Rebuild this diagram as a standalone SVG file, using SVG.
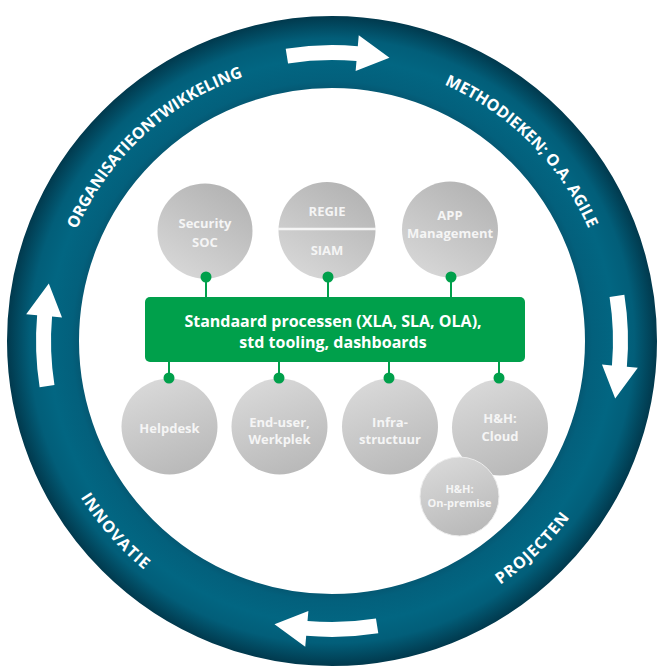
<svg xmlns="http://www.w3.org/2000/svg" xmlns:xlink="http://www.w3.org/1999/xlink" width="659" height="666" viewBox="0 0 659 666">
  <style>
    .ring-label { font-family: "Open Sans", "Liberation Sans", sans-serif; font-weight: 700; font-size: 16px; fill: #ffffff; }
    .node-label { font-family: "Open Sans", "Liberation Sans", sans-serif; font-weight: 700; font-size: 13px; fill: #f5f5f5; text-anchor: middle; }
    .node-label-small { font-family: "Open Sans", "Liberation Sans", sans-serif; font-weight: 700; font-size: 11px; fill: #f5f5f5; text-anchor: middle; }
    .hub-label { font-family: "Open Sans", "Liberation Sans", sans-serif; font-weight: 700; font-size: 16px; fill: #ffffff; text-anchor: middle; }
    .link { stroke: #00a04b; stroke-width: 2; fill: none; }
    .dot { fill: #00a04b; }
    .top-node { fill: url(#nodeTop); }
    .bottom-node { fill: url(#nodeBottom); }
  </style>
  <defs>
    <radialGradient id="ringGrad" gradientUnits="userSpaceOnUse" cx="332" cy="341" r="325">
      <stop offset="0.77" stop-color="#05556f"/>
      <stop offset="0.80" stop-color="#03607c"/>
      <stop offset="0.87" stop-color="#026682"/>
      <stop offset="0.93" stop-color="#025e79"/>
      <stop offset="1" stop-color="#01394d"/>
    </radialGradient>
    <linearGradient id="nodeTop" x1="0.8" y1="0" x2="0.2" y2="1">
      <stop offset="0" stop-color="#b2b2b2"/>
      <stop offset="1" stop-color="#d8d8d8"/>
    </linearGradient>
    <linearGradient id="nodeBottom" x1="0.3" y1="0" x2="0.7" y2="1">
      <stop offset="0" stop-color="#d9d9d9"/>
      <stop offset="1" stop-color="#b8b8b8"/>
    </linearGradient>
    <!-- curved arrow drawn at the top of the ring, relative to the ring centre -->
    <path id="ringArrow" fill="#ffffff" d="M -46.30,-292.36 A 296 296 0 0 1 25.80,-294.87 L 26.76,-305.83 L 57.5,-283.2 L 23.62,-269.97 L 24.49,-279.93 A 281 281 0 0 0 -43.95,-277.54 Z"/>
    <path id="arcOrg" d="M125.6,530.2 A280,280 0 0 1 538.4,151.8"/>
    <path id="arcMeth" d="M134,143 A280,280 0 0 1 530,539"/>
    <path id="arcInno" d="M136.6,118.6 A296,296 0 0 0 527.4,563.4"/>
    <path id="arcProj" d="M119.4,547 A296,296 0 0 0 544.6,135"/>
  </defs>

  <rect width="659" height="666" fill="#ffffff"/>

  <g id="cycle-ring">
    <circle cx="332" cy="341" r="289" fill="none" stroke="url(#ringGrad)" stroke-width="72"/>
  </g>

  <g id="cycle-arrows" transform="translate(332,341)">
    <use xlink:href="#ringArrow"/>
    <use xlink:href="#ringArrow" transform="rotate(90)"/>
    <use xlink:href="#ringArrow" transform="rotate(180)"/>
    <use xlink:href="#ringArrow" transform="rotate(270)"/>
  </g>

  <g id="cycle-labels">
    <text class="ring-label"><textPath xlink:href="#arcOrg" startOffset="50%" text-anchor="middle">ORGANISATIEONTWIKKELING</textPath></text>
    <text class="ring-label"><textPath xlink:href="#arcMeth" startOffset="50%" text-anchor="middle">METHODIEKEN; O.A. AGILE</textPath></text>
    <text class="ring-label" letter-spacing="1"><textPath xlink:href="#arcInno" startOffset="50%" text-anchor="middle">INNOVATIE</textPath></text>
    <text class="ring-label" letter-spacing="1"><textPath xlink:href="#arcProj" startOffset="50%" text-anchor="middle">PROJECTEN</textPath></text>
  </g>

  <g id="connectors">
    <line class="link" x1="206" y1="277" x2="206" y2="298"/>
    <line class="link" x1="328" y1="277" x2="328" y2="298"/>
    <line class="link" x1="451" y1="277" x2="451" y2="298"/>
    <line class="link" x1="169" y1="361" x2="169" y2="378"/>
    <line class="link" x1="279" y1="361" x2="279" y2="378"/>
    <line class="link" x1="389" y1="361" x2="389" y2="378"/>
    <line class="link" x1="499" y1="361" x2="499" y2="378"/>
  </g>

  <g id="node-security">
    <circle class="top-node" cx="205" cy="231" r="47.5"/>
    <text class="node-label" x="205" y="228">Security</text>
    <text class="node-label" x="205" y="247">SOC</text>
  </g>

  <g id="node-regie-siam">
    <circle class="top-node" cx="327" cy="230.5" r="48.5"/>
    <line x1="278" y1="229" x2="376" y2="229" stroke="#f5f5f5" stroke-width="2.5"/>
    <text class="node-label" x="327" y="216">REGIE</text>
    <text class="node-label" x="327" y="255">SIAM</text>
  </g>

  <g id="node-app">
    <circle class="top-node" cx="450" cy="229.5" r="48"/>
    <text class="node-label" x="450" y="220">APP</text>
    <text class="node-label" x="450" y="238">Management</text>
  </g>

  <g id="node-hub">
    <rect x="145" y="297" width="380" height="65" rx="5" fill="#00a04b"/>
    <text class="hub-label" x="333" y="327">Standaard processen (XLA, SLA, OLA),</text>
    <text class="hub-label" x="333" y="348">std tooling, dashboards</text>
  </g>

  <g id="node-helpdesk">
    <circle class="bottom-node" cx="169.5" cy="426.5" r="48"/>
    <text class="node-label" x="169.5" y="433">Helpdesk</text>
  </g>

  <g id="node-enduser">
    <circle class="bottom-node" cx="279.5" cy="426.5" r="48"/>
    <text class="node-label" x="279.5" y="427">End-user,</text>
    <text class="node-label" x="279.5" y="444">Werkplek</text>
  </g>

  <g id="node-infra">
    <circle class="bottom-node" cx="390" cy="426.5" r="48"/>
    <text class="node-label" x="390" y="427">Infra-</text>
    <text class="node-label" x="390" y="444">structuur</text>
  </g>

  <g id="node-cloud">
    <circle class="bottom-node" cx="500" cy="427.5" r="48"/>
    <text class="node-label" x="500" y="423">H&amp;H:</text>
    <text class="node-label" x="500" y="441">Cloud</text>
  </g>

  <g id="node-onpremise">
    <circle class="bottom-node" cx="459.5" cy="496.5" r="39.5" stroke="#ececec" stroke-width="1"/>
    <text class="node-label-small" x="459.5" y="493">H&amp;H:</text>
    <text class="node-label-small" x="459.5" y="507">On-premise</text>
  </g>

  <g id="connector-dots">
    <circle class="dot" cx="206" cy="277" r="5.5"/>
    <circle class="dot" cx="328" cy="277" r="5.5"/>
    <circle class="dot" cx="451" cy="277" r="5.5"/>
    <circle class="dot" cx="169" cy="378" r="5.5"/>
    <circle class="dot" cx="279" cy="378" r="5.5"/>
    <circle class="dot" cx="389" cy="378" r="5.5"/>
    <circle class="dot" cx="499" cy="378" r="5.5"/>
  </g>
</svg>
